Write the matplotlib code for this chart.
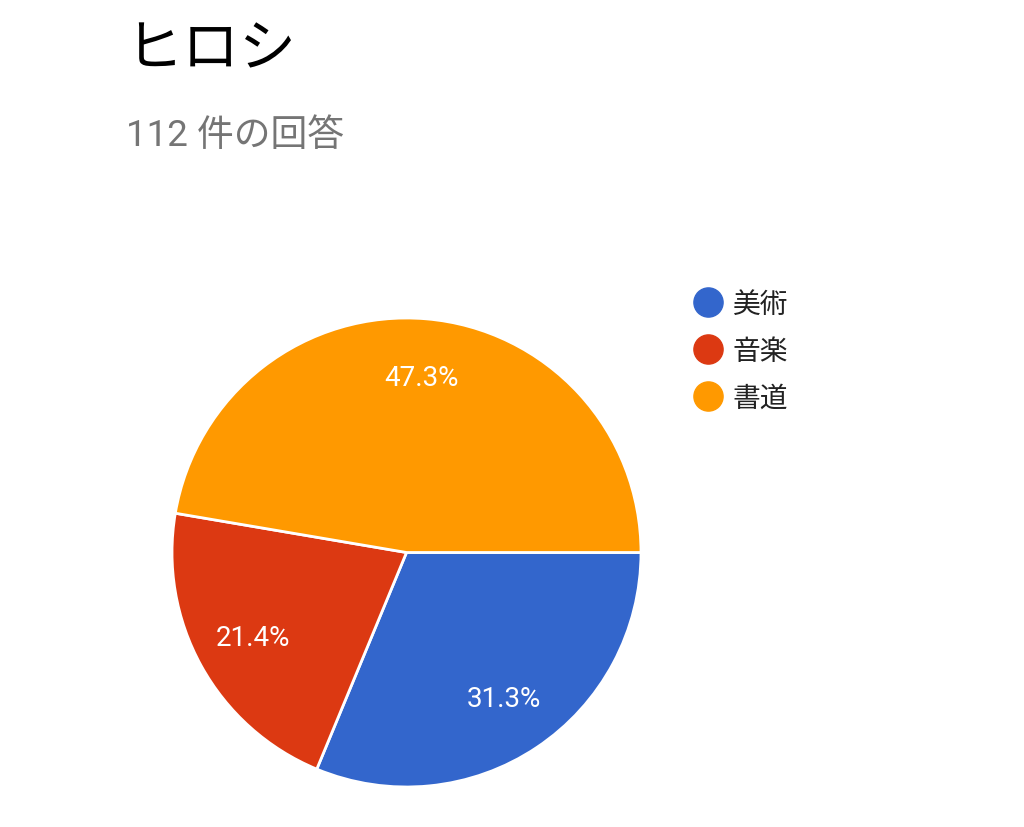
import matplotlib.pyplot as plt
from matplotlib.lines import Line2D

plt.rcParams['font.family'] = ['Roboto', 'Noto Sans CJK JP', 'DejaVu Sans']

title = 'ヒロシ'
subtitle = '112 件の回答'
labels = ['美術', '音楽', '書道']
counts = [35, 24, 53]
colors = ['#3366CC', '#DC3912', '#FF9900']

fig = plt.figure(figsize=(10.24, 8.28), dpi=100)
fig.text(125 / 1024, 1 - 50 / 828, title, fontsize=41, color='#000000',
         va='center', ha='left', family=['Noto Sans CJK JP', 'DejaVu Sans'])
fig.text(126 / 1024, 1 - 136 / 828, subtitle, fontsize=26.5, color='#757575',
         va='center', ha='left')

ax = fig.add_axes([172 / 1024, 1 - 788 / 828, 469 / 1024, 469 / 828])
wedges, texts, autotexts = ax.pie(
    counts, colors=colors, startangle=0, counterclock=False,
    autopct=lambda p: f'{p + 1e-6:.1f}%', pctdistance=0.75,
    wedgeprops=dict(edgecolor='white', linewidth=2),
    textprops=dict(color='white', fontsize=20))
ax.set_xlim(-1.0, 1.0)
ax.set_ylim(-1.0, 1.0)
ax.set_aspect('equal')

handles = [Line2D([0], [0], marker='o', linestyle='none', markersize=21,
                  markerfacecolor=c, markeredgecolor=c) for c in colors]
leg = fig.legend(handles, labels, loc='upper left',
                 bbox_to_anchor=(680 / 1024, 1 - 279 / 828), frameon=False,
                 fontsize=20, handletextpad=0.3, labelspacing=0.6,
                 handlelength=1.2, borderaxespad=0)
for t in leg.get_texts():
    t.set_color('#222222')
    t.set_family(['Noto Sans CJK JP', 'DejaVu Sans'])

fig.savefig('out.png', dpi=100, facecolor='white')
